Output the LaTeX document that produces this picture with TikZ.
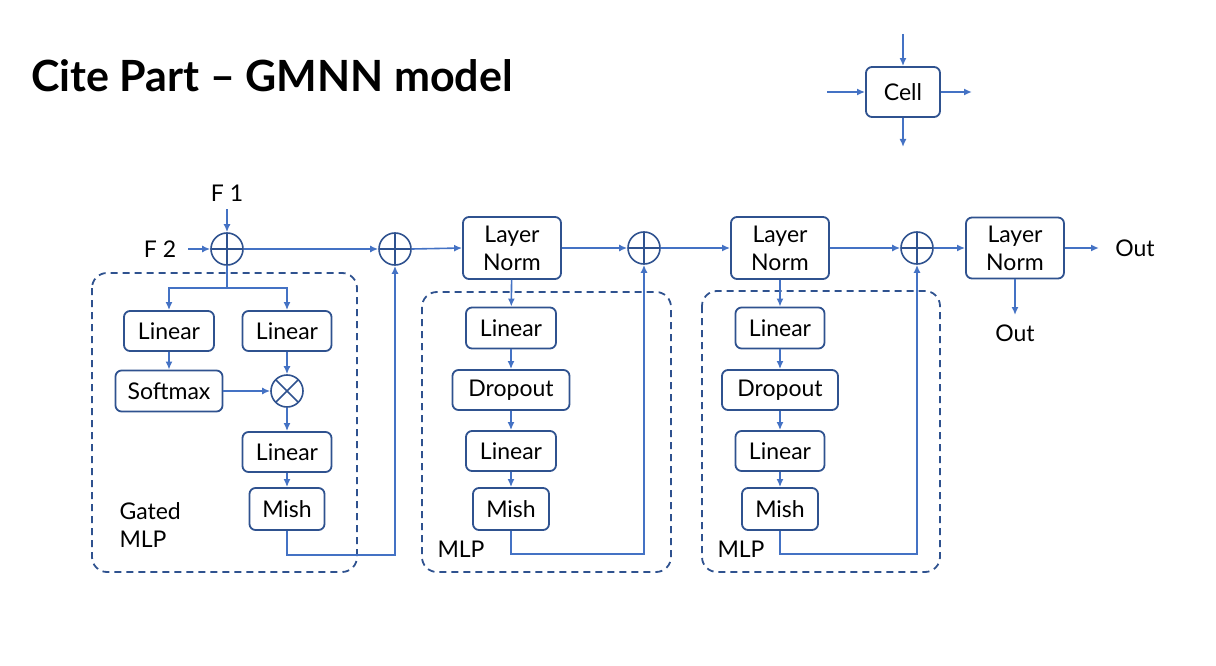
\documentclass[tikz,border=0pt]{standalone}
\usepackage{fontspec}
\setmainfont{Lato}
\usetikzlibrary{arrows.meta, positioning}

\definecolor{boxBlue}{HTML}{2F528F}
\definecolor{lineBlue}{HTML}{4472C4}

\tikzset{
	block/.style = {draw = boxBlue, line width = 1.8pt, rounded corners = 6pt, inner sep = 0pt, align = center,
		font = \fontsize{23}{28}\selectfont},
	flow/.style = {draw = lineBlue, line width = 1.6pt, -{Latex[length = 8pt, width = 7pt]}},
	groupbox/.style = {draw = boxBlue, line width = 1.8pt, dash pattern = on 7pt off 5pt, rounded corners = 15pt},
	addop/.style = {circle, draw = boxBlue, line width = 1.6pt, minimum size = 32pt, inner sep = 0pt,
		path picture = {\draw [boxBlue, line width = 1.6pt] (path picture bounding box.north) -- (path picture bounding box.south)
			(path picture bounding box.west) -- (path picture bounding box.east);}},
	mulop/.style = {circle, draw = boxBlue, line width = 1.6pt, minimum size = 32pt, inner sep = 0pt,
		path picture = {\draw [boxBlue, line width = 1.6pt] (path picture bounding box.north west) -- (path picture bounding box.south east)
			(path picture bounding box.south west) -- (path picture bounding box.north east);}},
	label/.style = {font = \fontsize{23}{28}\selectfont, align = left}
}

\begin{document}
\begin{tikzpicture}[x = 1pt, y = -1pt]
	\useasboundingbox (0,0) rectangle (1216,666);

	\node [anchor = base west, inner sep = 0pt, font = \fontsize{43}{45}\selectfont\bfseries] (title) at (31,92) {Cite Part – GMNN model};

	% cell legend
	\node [block, minimum width = 74pt, minimum height = 50pt] (cell) at (903,92) {Cell};
	\coordinate (cellIn) at (827,92);
	\coordinate (cellTop) at (903,34);
	\coordinate (cellOut) at (972,92);
	\coordinate (cellDown) at (903,147);
	\draw [flow] (cellIn) -- (cell.west);
	\draw [flow] (cellTop) -- (cell.north);
	\draw [flow] (cell.east) -- (cellOut);
	\draw [flow] (cell.south) -- (cellDown);

	% gated MLP
	\begin{scope}
		\node [label] (f1) at (227,193) {F 1};
		\node [label] (f2) at (160,249) {F 2};
		\node [addop] (add1) at (227,249) {};
		\node [addop] (add2) at (395,249) {};
		\draw [flow] (add1.north |- 0,209) -- (add1.north);
		\draw [flow] (188,249) -- (add1.west);
		\draw [flow] (add1.east) -- (add2.west);

		\draw [groupbox] (92,273) rectangle (357,572);

		\node [block, minimum width = 90pt, minimum height = 40pt] (lin1) at (169,331) {Linear};
		\node [block, minimum width = 89pt, minimum height = 40pt] (lin2) at (287,331) {Linear};
		\node [block, minimum width = 107pt, minimum height = 41pt] (soft) at (169,391) {Softmax};
		\node [mulop] (mul) at (287,391) {};
		\node [block, minimum width = 89pt, minimum height = 40pt] (lin3) at (287,452) {Linear};
		\node [block, minimum width = 75pt, minimum height = 42pt] (mish1) at (287,509) {Mish};
		\node [label, anchor = north west] (gated) at (116,499) {Gated\\MLP};

		\draw [flow] (add1.south) -- ++(0,22) -| (lin1.north);
		\draw [flow] (add1.south) -- ++(0,22) -| (lin2.north);
		\draw [flow] (lin1) -- (soft);
		\draw [flow] (lin2) -- (mul);
		\draw [flow] (soft) -- (mul);
		\draw [flow] (mul) -- (lin3);
		\draw [flow] (lin3) -- (mish1);
		\draw [flow] (mish1.south) -- ++(0,24) -| (add2.south);
	\end{scope}

	% first MLP
	\begin{scope}
		\node [block, minimum width = 98pt, minimum height = 62pt] (norm1) at (512,248) {Layer\\Norm};
		\node [addop] (add3) at (644,248) {};
		\draw [flow] (add2.east) -- (norm1.west);
		\draw [flow] (norm1.east) -- (add3.west);

		\draw [groupbox] (422,292) rectangle (671,572);

		\node [block, minimum width = 90pt, minimum height = 41pt] (linA) at (511,328) {Linear};
		\node [block, minimum width = 117pt, minimum height = 40pt] (dropA) at (511,390) {Dropout};
		\node [block, minimum width = 90pt, minimum height = 40pt] (linB) at (511,451) {Linear};
		\node [block, minimum width = 76pt, minimum height = 42pt] (mishA) at (511,509) {Mish};
		\node [label, anchor = west] (mlpA) at (434,549) {MLP};

		\draw [flow] (norm1) -- (linA);
		\draw [flow] (linA) -- (dropA);
		\draw [flow] (dropA) -- (linB);
		\draw [flow] (linB) -- (mishA);
		\draw [flow] (mishA.south) -- ++(0,23) -| (add3.south);
	\end{scope}

	% second MLP
	\begin{scope}
		\node [block, minimum width = 98pt, minimum height = 62pt] (norm2) at (780,248) {Layer\\Norm};
		\node [addop] (add4) at (917,248) {};
		\draw [flow] (add3.east) -- (norm2.west);
		\draw [flow] (norm2.east) -- (add4.west);

		\draw [groupbox] (702,291) rectangle (940,572);

		\node [block, minimum width = 89pt, minimum height = 41pt] (linC) at (780,328) {Linear};
		\node [block, minimum width = 116pt, minimum height = 40pt] (dropC) at (780,390) {Dropout};
		\node [block, minimum width = 89pt, minimum height = 40pt] (linD) at (780,451) {Linear};
		\node [block, minimum width = 76pt, minimum height = 42pt] (mishC) at (780,509) {Mish};
		\node [label, anchor = west] (mlpC) at (714,549) {MLP};

		\draw [flow] (norm2) -- (linC);
		\draw [flow] (linC) -- (dropC);
		\draw [flow] (dropC) -- (linD);
		\draw [flow] (linD) -- (mishC);
		\draw [flow] (mishC.south) -- ++(0,23) -| (add4.south);
	\end{scope}

	% output
	\node [block, minimum width = 98pt, minimum height = 61pt] (norm3) at (1015,248) {Layer\\Norm};
	\node [label] (outR) at (1135,248) {Out};
	\node [label] (outD) at (1015,333) {Out};
	\coordinate (outRTip) at (1099,248);
	\coordinate (outDTip) at (1015,315);
	\draw [flow] (add4.east) -- (norm3.west);
	\draw [flow] (norm3.east) -- (outRTip);
	\draw [flow] (norm3.south) -- (outDTip);
\end{tikzpicture}
\end{document}
